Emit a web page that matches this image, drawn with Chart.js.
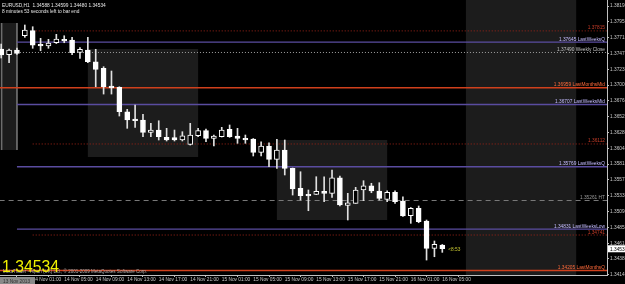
<!DOCTYPE html>
<html><head><meta charset="utf-8">
<script src="https://cdn.jsdelivr.net/npm/chart.js@4.4.0/dist/chart.umd.min.js"></script>
<style>html,body{margin:0;padding:0;background:#000;overflow:hidden}</style>
</head><body>
<canvas id="c" width="625" height="284"></canvas>
<script>
// ---- data ----
const symbolTitle = 'EURUSD,H1  1.34588 1.34599 1.34480 1.34534';
const timerText = '8 minutes 53 seconds left to bar end';
const lastPrice = 1.34534;
const openP  = [1.37542,1.37456,1.37527,1.37742,1.37818,1.37613,1.37587,1.37637,1.37688,1.37678,
                1.37492,1.37527,1.37351,1.37251,1.36985,1.36965,1.36598,1.36488,1.36473,1.36288,
                1.36322,1.36212,1.36209,1.36172,1.36107,1.36236,1.36312,1.36197,1.36221,1.36333,
                1.36232,1.36197,1.36187,1.35986,1.36081,1.35881,1.36021,1.35745,1.35444,1.35354,
                1.35354,1.35399,1.35369,1.35604,1.35188,1.35218,1.35419,1.35483,1.35404,1.35279,
                1.35384,1.35253,1.35032,1.35143,1.34952,1.34541,1.34588];
const highP  = [1.37617,1.37542,1.37557,1.37904,1.37878,1.37703,1.37688,1.37763,1.37742,1.37718,
                1.37562,1.37718,1.37538,1.37276,1.37211,1.36974,1.36634,1.36699,1.36559,1.36423,
                1.36462,1.36348,1.36322,1.36297,1.36423,1.36348,1.36337,1.36247,1.36363,1.36398,
                1.36348,1.36247,1.36194,1.36146,1.36131,1.36182,1.36172,1.35750,1.35694,1.35419,
                1.35619,1.35619,1.35720,1.35629,1.35369,1.35459,1.35559,1.35520,1.35529,1.35408,
                1.35408,1.35318,1.35155,1.35178,1.34967,1.34651,1.34599];
const lowP   = [1.37407,1.37336,1.37459,1.37718,1.37553,1.37516,1.37553,1.37625,1.37637,1.37456,
                1.37402,1.37336,1.36974,1.36864,1.36864,1.36533,1.36348,1.36363,1.36221,1.36221,
                1.36172,1.36157,1.36157,1.36157,1.36096,1.36221,1.36146,1.36081,1.36217,1.36212,
                1.36122,1.36122,1.35931,1.35931,1.35770,1.35745,1.35645,1.35343,1.35268,1.35107,
                1.35350,1.35242,1.35309,1.35178,1.34967,1.35218,1.35258,1.35378,1.35268,1.35242,
                1.35218,1.35020,1.34917,1.34926,1.34364,1.34414,1.34480];
const closeP = [1.37452,1.37527,1.37477,1.37828,1.37602,1.37587,1.37632,1.37693,1.37663,1.37486,
                1.37538,1.37351,1.37236,1.36974,1.36955,1.36598,1.36473,1.36462,1.36288,1.36322,
                1.36221,1.36172,1.36172,1.36236,1.36247,1.36312,1.36197,1.36232,1.36322,1.36221,
                1.36197,1.36172,1.35986,1.36081,1.35881,1.36021,1.35745,1.35434,1.35333,1.35328,
                1.35399,1.35369,1.35604,1.35193,1.35227,1.35419,1.35483,1.35404,1.35294,1.35384,
                1.35242,1.35027,1.35143,1.34941,1.34541,1.34601,1.34534];

const timeTickIdx = [4,8,12,16,20,24,28,32,36,40,44,48,52,56];
const timeTickLabels = ['14 Nov 01:00','14 Nov 05:00','14 Nov 09:00','14 Nov 13:00','14 Nov 17:00','14 Nov 21:00',
  '15 Nov 01:00','15 Nov 05:00','15 Nov 09:00','15 Nov 13:00','15 Nov 17:00','15 Nov 21:00','16 Nov 01:00','16 Nov 05:00'];
const firstDateLabel = '13 Nov 2013';
const priceTicks = [1.38190,1.37950,1.37710,1.37470,1.37230,1.37000,1.36760,1.36520,1.36280,
                    1.36040,1.35810,1.35570,1.35330,1.35090,1.34850,1.34610,1.34380,1.34140];

const levelValues = [1.37815,1.37645,1.37490,1.36959,1.36707,1.36112,1.35769,1.35261,1.34831,1.34741,1.34205];
const levelNames  = ['1.37815','1.37645 LastWeeksQ','1.37490 Weekly Close','1.36959 LastMonthsMid','1.36707 LastWeeksMid',
                     '1.36112','1.35769 LastWeeksQ','1.35261 HT','1.34831 LastWeeksLow','1.34741','1.34205 LastMonthsQ'];
const levelKinds  = ['pivot','week','close','month','week','pivot','week','ht','week','pivot','month'];
const levelStart  = [4,2,2,-0.2,2,4,2,-0.2,2,4,-0.2];

const boxStart = [-0.2, 11, 35, 59];
const boxEnd   = [2, 25, 49, 73];
const boxHigh  = [1.37934, 1.37542, 1.36172, null];
const boxLow   = [1.36021, 1.35916, 1.34967, null];

const vLineIdx = [0.06, 2.0];
const vLineTop = 1.37934, vLineBottom = 1.36021;

const copyright = 'MetaTrader - Alpari (UK) Ltd., \u00a9 2001-2009 MetaQuotes Software Corp.';
const countdown = '<8:53';

// ---- styles ----
const FONT = '"Liberation Sans", Arial, sans-serif';
const kindStyle = {
  pivot: {color:'#a02418', width:1, dash:[1,2], text:'#c83c28'},
  week:  {color:'#5a4ca0', width:1.3, dash:[], text:'#c4bcff'},
  close: {color:'#a0a0a0', width:1, dash:[1,2], text:'#c0c0c0'},
  month: {color:'#d0401c', width:1.5, dash:[], text:'#ff6a3a'},
  ht:    {color:'#7a7a7a', width:1, dash:[5,4], text:'#9a9a9a'}
};
const X_MIN = -0.152, X_MAX = 76.91, Y_MIN = 1.341389, Y_MAX = 1.382804;

const idx = openP.map((_, i) => i);
const bodies = idx.map(i => ({x:i, y:[openP[i], closeP[i]]}));
const wicks  = idx.map(i => ({x:i, y:[lowP[i], highP[i]]}));
const bodyFill = idx.map(i => closeP[i] < openP[i] ? '#ffffff' : '#000000');

const datasets = [
  {type:'bar', data:bodies, backgroundColor:bodyFill, borderColor:'#ffffff', borderWidth:1,
   borderSkipped:false, barThickness:5, grouped:false, order:0},
  {type:'bar', data:wicks, backgroundColor:'#e0e0e0', borderWidth:0, barThickness:1, grouped:false, order:1}
];
levelValues.forEach((v, i) => {
  const s = kindStyle[levelKinds[i]];
  datasets.push({type:'line', data:[{x:levelStart[i], y:v},{x:X_MAX, y:v}], borderColor:s.color,
    borderWidth:s.width, borderDash:s.dash, pointRadius:0, fill:false, order:3});
});
vLineIdx.forEach(v => {
  datasets.push({type:'line', data:[{x:v, y:vLineTop},{x:v, y:vLineBottom}], borderColor:'#6e6e6e',
    borderWidth:1, pointRadius:0, fill:false, order:4});
});

const overlay = {
  id:'overlay',
  beforeDraw(chart){
    const c = chart.ctx; c.save(); c.fillStyle = '#000'; c.fillRect(0,0,chart.width,chart.height); c.restore();
  },
  beforeDatasetsDraw(chart){
    const {ctx, scales:{x, y}, chartArea:a} = chart;
    ctx.save(); ctx.fillStyle = '#1c1c1c';
    boxStart.forEach((s, i) => {
      const x0 = Math.max(a.left, x.getPixelForValue(s)), x1 = x.getPixelForValue(boxEnd[i]);
      const y0 = boxHigh[i] == null ? a.top : y.getPixelForValue(boxHigh[i]);
      const y1 = boxLow[i] == null ? a.bottom : y.getPixelForValue(boxLow[i]);
      ctx.fillRect(x0, y0, x1 - x0, y1 - y0);
    });
    ctx.restore();
  },
  afterDraw(chart){
    const {ctx, scales:{x, y}, chartArea:a} = chart;
    ctx.save();
    ctx.font = '4.8px ' + FONT;
    ctx.textBaseline = 'alphabetic';
    ctx.textAlign = 'right';
    levelValues.forEach((v, i) => {
      ctx.fillStyle = kindStyle[levelKinds[i]].text;
      ctx.fillText(levelNames[i], a.right - 2, y.getPixelForValue(v) - 1.5);
    });
    ctx.textAlign = 'left';
    ctx.fillStyle = '#e6e6e6';
    ctx.fillText(symbolTitle, 2, 6.5);
    ctx.fillText(timerText, 2, 12.5);
    ctx.fillStyle = '#c8c832';
    ctx.fillText(countdown, x.getPixelForValue(openP.length - 1) + 6, y.getPixelForValue(lastPrice) + 2);
    ctx.fillStyle = '#b0b0b0';
    ctx.fillText(copyright, 3, 273, 144);
    ctx.font = '16px ' + FONT;
    ctx.fillStyle = '#f0f000';
    ctx.fillText(lastPrice.toFixed(5), 2, 272, 57);
    ctx.font = '4.8px ' + FONT;
    ctx.fillStyle = '#8a8a8a';
    ctx.fillRect(0, a.bottom + 2, 35, 8);
    ctx.fillStyle = '#303030';
    ctx.fillText(firstDateLabel, 3, a.bottom + 7.5);
    const py = y.getPixelForValue(lastPrice);
    ctx.fillStyle = '#ffffff';
    ctx.fillRect(a.right + 1, py - 3.5, 20, 7);
    ctx.fillStyle = '#000000';
    ctx.fillText(lastPrice.toFixed(5), a.right + 3, py + 2);
    ctx.restore();
  }
};

new Chart(document.getElementById('c'), {
  type:'bar',
  data:{datasets},
  plugins:[overlay],
  options:{
    responsive:false, animation:false,
    layout:{padding:0},
    plugins:{legend:{display:false}, tooltip:{enabled:false}},
    scales:{
      x:{type:'linear', min:X_MIN, max:X_MAX, offset:false,
        grid:{display:true, drawOnChartArea:false, drawTicks:true, tickLength:2, color:'#c0c0c0'},
        border:{display:true, color:'#c0c0c0'},
        ticks:{autoSkip:false, maxRotation:0, minRotation:0, align:'start', padding:0, color:'#c8c8c8',
          font:{family:FONT, size:4.8}, callback:(v, i) => timeTickLabels[i]},
        afterBuildTicks:a => { a.ticks = timeTickIdx.map(v => ({value:v})); },
        afterFit:a => { a.height = 9; a.paddingLeft = 0; a.paddingRight = 0; }
      },
      y:{type:'linear', position:'right', min:Y_MIN, max:Y_MAX,
        grid:{display:true, drawOnChartArea:false, drawTicks:true, tickLength:2, color:'#c0c0c0'},
        border:{display:true, color:'#c0c0c0'},
        ticks:{padding:1, color:'#c8c8c8', font:{family:FONT, size:4.8}, callback:v => v.toFixed(5)},
        afterBuildTicks:a => { a.ticks = priceTicks.map(v => ({value:v})); },
        afterFit:a => { a.width = 18; a.paddingTop = 0; a.paddingBottom = 0; }
      }
    }
  }
});
</script>
</body></html>
